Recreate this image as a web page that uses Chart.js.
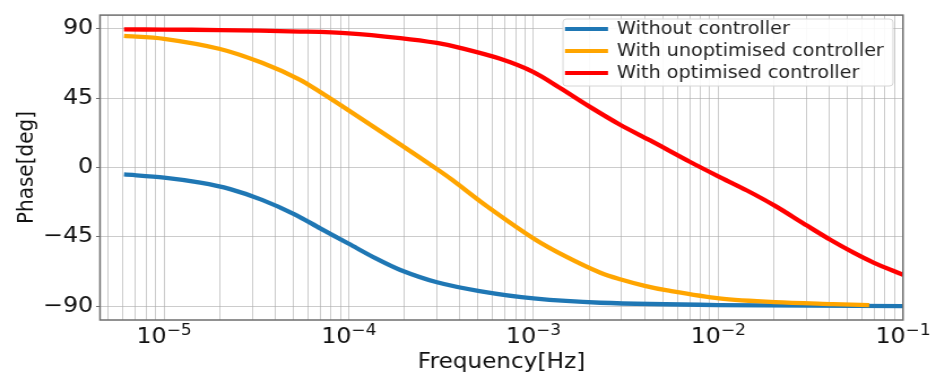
<!DOCTYPE html>
<html>
<head>
<meta charset="utf-8">
<script src="https://cdn.jsdelivr.net/npm/chart.js@4.4.1/dist/chart.umd.min.js"></script>
<style>
  html, body { margin: 0; padding: 0; background: #fff; }
  #myChart { display: block; width: 936px; height: 373px; }
</style>
</head>
<body>
<!-- the reference figure is a matplotlib png stretched ~1.13x horizontally,
     so the canvas is drawn narrower and widened with css -->
<canvas id="myChart" width="828" height="373"></canvas>
<script>
// values
const seriesLabels = ['Without controller', 'With unoptimised controller', 'With optimised controller'];
const seriesColors = ['#1f77b4', '#ffa500', '#ff0000'];

const freqWithout = [6.07e-6, 1e-5, 1.57e-5, 2.28e-5, 3.39e-5, 5.12e-5, 7e-5, 1e-4, 1.4e-4, 1.9e-4, 3.0e-4, 5.1e-4, 1e-3, 2.3e-3, 1e-2, 0.1];
const phaseWithout = [-4.5, -6.5, -9.8, -14, -21, -30.5, -39.5, -49.5, -59, -66.5, -74.5, -80.2, -85, -87.8, -89.3, -90];

const freqUnopt = [6.07e-6, 1e-5, 2.01e-5, 3.39e-5, 5.45e-5, 7e-5, 1e-4, 1.9e-4, 3e-4, 3.63e-4, 5.58e-4, 1e-3, 1.51e-3, 2.3e-3, 2.94e-3, 4e-3, 5.3e-3, 1.01e-2, 2.03e-2, 4.19e-2, 6.56e-2];
const phaseUnopt = [85.5, 83.6, 77, 68, 57, 49, 37, 15, -1, -8, -25, -46, -58, -68.3, -72.5, -76.8, -79.8, -84.9, -87.4, -88.7, -89.4];

const freqOpt = [6.07e-6, 1e-5, 2.0e-5, 5.45e-5, 1e-4, 1.9e-4, 3e-4, 4e-4, 6.6e-4, 1e-3, 1.4e-3, 2.02e-3, 2.94e-3, 4.28e-3, 7.05e-3, 1e-2, 1.43e-2, 2.03e-2, 3.02e-2, 4.04e-2, 5.4e-2, 6.92e-2, 0.1];
const phaseOpt = [89.7, 89.6, 89.3, 88.3, 87.2, 84.1, 80.9, 77.7, 70.6, 62, 51.5, 39.4, 27.8, 17.6, 3.6, -5.7, -14.9, -24.9, -37.7, -46.9, -55.3, -61.7, -69.6];

const yTicks = [-90, -45, 0, 45, 90];
const xDecades = [1e-5, 1e-4, 1e-3, 1e-2, 1e-1];
const xDecadeExp = ['\u22125', '\u22124', '\u22123', '\u22122', '\u22121'];

const toPoints = (xs, ys) => xs.map((x, i) => ({ x: x, y: ys[i] }));

// grid positions 5e-6 .. 1e-1 (every 1..9 x 10^n)
const xGridValues = [];
for (let e = -6; e <= -1; e++) {
    for (let m = 1; m <= 9; m++) {
        const v = m * Math.pow(10, e);
        if (v >= 4.6e-6 && v <= 0.1000001) xGridValues.push(v);
    }
}

const SX = 936 / 828; // horizontal stretch of the reference
const gridColor = 'rgba(170,170,170,0.6)';
const spineColor = '#6e6e6e';
const FONT = 'DejaVu Sans';

const frameAndLegend = {
    id: 'frameAndLegend',
    afterDraw(chart) {
        const { ctx, chartArea: a } = chart;
        ctx.save();
        ctx.strokeStyle = spineColor;
        ctx.lineWidth = 1.5;
        ctx.strokeRect(a.left, a.top, a.right - a.left, a.bottom - a.top);

        // decade labels 10^n under the x axis
        const xs = chart.scales.x;
        ctx.fillStyle = '#111';
        ctx.textBaseline = 'alphabetic';
        ctx.textAlign = 'left';
        xDecades.forEach((v, i) => {
            const px = xs.getPixelForValue(v);
            ctx.font = '21px "' + FONT + '"';
            const wBase = ctx.measureText('10').width;
            ctx.font = '15px "' + FONT + '"';
            const wExp = ctx.measureText(xDecadeExp[i]).width;
            const x0 = px - (wBase + wExp) / 2;
            ctx.font = '21px "' + FONT + '"';
            ctx.fillText('10', x0, 343);
            ctx.font = '15px "' + FONT + '"';
            ctx.fillText(xDecadeExp[i], x0 + wBase, 334.5);
        });

        // legend box, upper right
        const bx = 563 / SX, by = 19, bw = 330 / SX, bh = 67;
        ctx.fillStyle = 'rgba(255,255,255,0.9)';
        ctx.strokeStyle = '#d6d6d6';
        ctx.lineWidth = 1;
        ctx.beginPath();
        ctx.roundRect(bx, by, bw, bh, 3);
        ctx.fill();
        ctx.stroke();
        ctx.font = '17px "' + FONT + '"';
        ctx.textBaseline = 'middle';
        chart.data.datasets.forEach((ds, i) => {
            const ry = 29 + i * 22;
            ctx.strokeStyle = ds.borderColor;
            ctx.lineWidth = 4;
            ctx.beginPath();
            ctx.moveTo(565 / SX, ry);
            ctx.lineTo(608 / SX, ry);
            ctx.stroke();
            ctx.fillStyle = '#222';
            ctx.fillText(ds.label, 617 / SX, ry + 1);
        });
        ctx.restore();
    }
};

const makeDataset = (i, xs, ys, order) => ({
    label: seriesLabels[i],
    data: toPoints(xs, ys),
    borderColor: seriesColors[i],
    backgroundColor: seriesColors[i],
    borderWidth: 4.3,
    pointRadius: 0,
    tension: 0.3,
    order: order
});

const canvas = document.getElementById('myChart');
const chart = new Chart(canvas, {
    type: 'line',
    data: {
        datasets: [
            makeDataset(0, freqWithout, phaseWithout, 3),
            makeDataset(1, freqUnopt, phaseUnopt, 2),
            makeDataset(2, freqOpt, phaseOpt, 1)
        ]
    },
    options: {
        responsive: false,
        devicePixelRatio: 1,
        animation: false,
        layout: { padding: { top: 10, right: 828 - 903 / SX, left: 0, bottom: 0 } },
        plugins: {
            legend: { display: false },
            tooltip: { enabled: false }
        },
        scales: {
            x: {
                type: 'logarithmic',
                min: 4.5e-6,
                max: 0.1,
                afterFit: s => { s.height = 53; },
                afterBuildTicks: s => { s.ticks = xGridValues.map(v => ({ value: v })); },
                border: { display: false },
                grid: { color: gridColor, lineWidth: 1, drawTicks: false },
                ticks: { display: false, autoSkip: false, maxRotation: 0 },
                title: {
                    display: true,
                    text: 'Frequency[Hz]',
                    color: '#111',
                    font: { family: FONT, size: 20.5, lineHeight: 1 },
                    padding: { top: 0, bottom: 0 }
                }
            },
            y: {
                min: -99,
                max: 99,
                afterFit: s => { s.width = 100 / SX; },
                afterBuildTicks: s => { s.ticks = yTicks.map(v => ({ value: v })); },
                border: { display: false },
                grid: { color: gridColor, lineWidth: 1, tickColor: spineColor, tickLength: 3.5 },
                ticks: {
                    padding: 2.5,
                    color: '#111',
                    font: { family: FONT, size: 21 },
                    callback: (value) => (value < 0 ? '\u2212' + Math.abs(value) : String(value))
                },
                title: {
                    display: true,
                    text: 'Phase[deg]',
                    color: '#111',
                    font: { family: FONT, size: 20, lineHeight: 1 },
                    padding: { top: 14, bottom: 0 }
                }
            }
        }
    },
    plugins: [frameAndLegend]
});
canvas.style.width = '936px';
canvas.style.height = '373px';
</script>
</body>
</html>
